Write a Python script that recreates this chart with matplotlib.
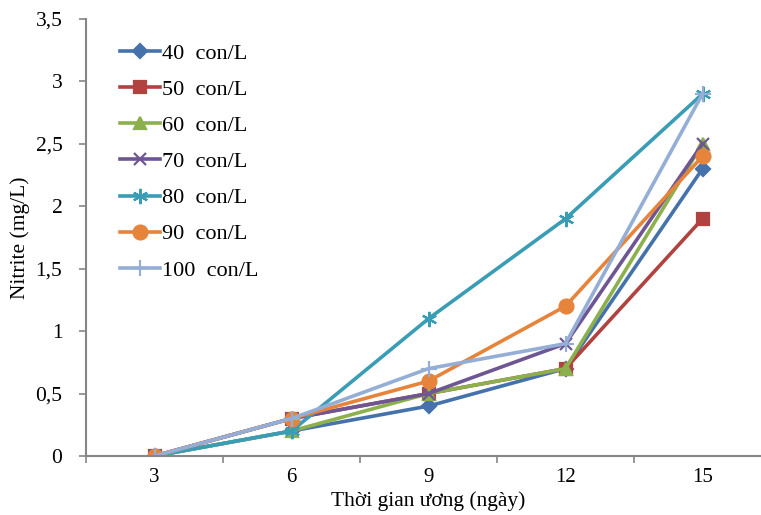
import matplotlib
matplotlib.use("Agg")
import matplotlib.pyplot as plt
import numpy as np

# Data
days = ["3", "6", "9", "12", "15"]
labels = ["40  con/L", "50  con/L", "60  con/L", "70  con/L",
          "80  con/L", "90  con/L", "100  con/L"]
n40 = [0, 0.2, 0.4, 0.7, 2.3]
n50 = [0, 0.3, 0.5, 0.7, 1.9]
n60 = [0, 0.2, 0.5, 0.7, 2.5]
n70 = [0, 0.3, 0.5, 0.9, 2.5]
n80 = [0, 0.2, 1.1, 1.9, 2.9]
n90 = [0, 0.3, 0.6, 1.2, 2.4]
n100 = [0, 0.3, 0.7, 0.9, 2.9]
series = [n40, n50, n60, n70, n80, n90, n100]

colors = ["#4672AB", "#B0423F", "#8CB04C", "#6E5693", "#3A9DB5", "#E5843A", "#94AED6"]
markers = ["D", "s", "^", "x", (6, 2, 0), "o", "+"]
msizes = [7, 9, 9, 9, 11, 10, 11]

#-------------------------------------------------------------------------------

plt.rcParams["font.family"] = ["Liberation Serif", "DejaVu Serif"]

fig = plt.figure(figsize=(7.61, 5.15), dpi=100)
ax = fig.add_axes([86/761, (515-456)/515, (771-86)/761, (456-19)/515])

x = np.arange(len(days))
for vals, lab, c, m, ms in zip(series, labels, colors, markers, msizes):
  ax.plot(x, vals, color=c, lw=2.6, marker=m, ms=ms, mew=1.6,
          mfc=c, mec=c, label=lab, solid_joinstyle="round")

ax.set_xlim(-0.5, len(days)-0.5)
ax.set_ylim(0, 3.5)
ax.set_yticks(np.arange(0, 3.51, 0.5))
ax.set_yticklabels([("%g" % v).replace(".", ",") for v in np.arange(0, 3.51, 0.5)])

# Category axis: ticks between categories, labels at centres
ax.set_xticks(np.arange(-0.5, len(days), 1.0))
ax.set_xticklabels([])
ax.set_xticks(x, minor=True)
ax.set_xticklabels(days, minor=True)
ax.tick_params(axis="x", which="minor", length=0, pad=9, labelsize=15)
ax.tick_params(axis="x", which="major", length=5, width=1.2, color="#868686")
ax.tick_params(axis="y", length=5, width=1.2, color="#868686", labelsize=15.5, pad=12)

for s in ["top", "right"]:
  ax.spines[s].set_visible(False)
for s in ["left", "bottom"]:
  ax.spines[s].set_color("#868686")
  ax.spines[s].set_linewidth(1.5)

ax.set_xlabel("Thời gian ương (ngày)", fontsize=15.5, labelpad=3)
ax.set_ylabel("Nitrite (mg/L)", fontsize=15.5, labelpad=4)

ax.legend(loc="upper left", bbox_to_anchor=(0.02, 0.99), frameon=False,
          fontsize=16, labelspacing=0.7, handlelength=1.8, handletextpad=0.1)

fig.savefig("out.png", dpi=100)
